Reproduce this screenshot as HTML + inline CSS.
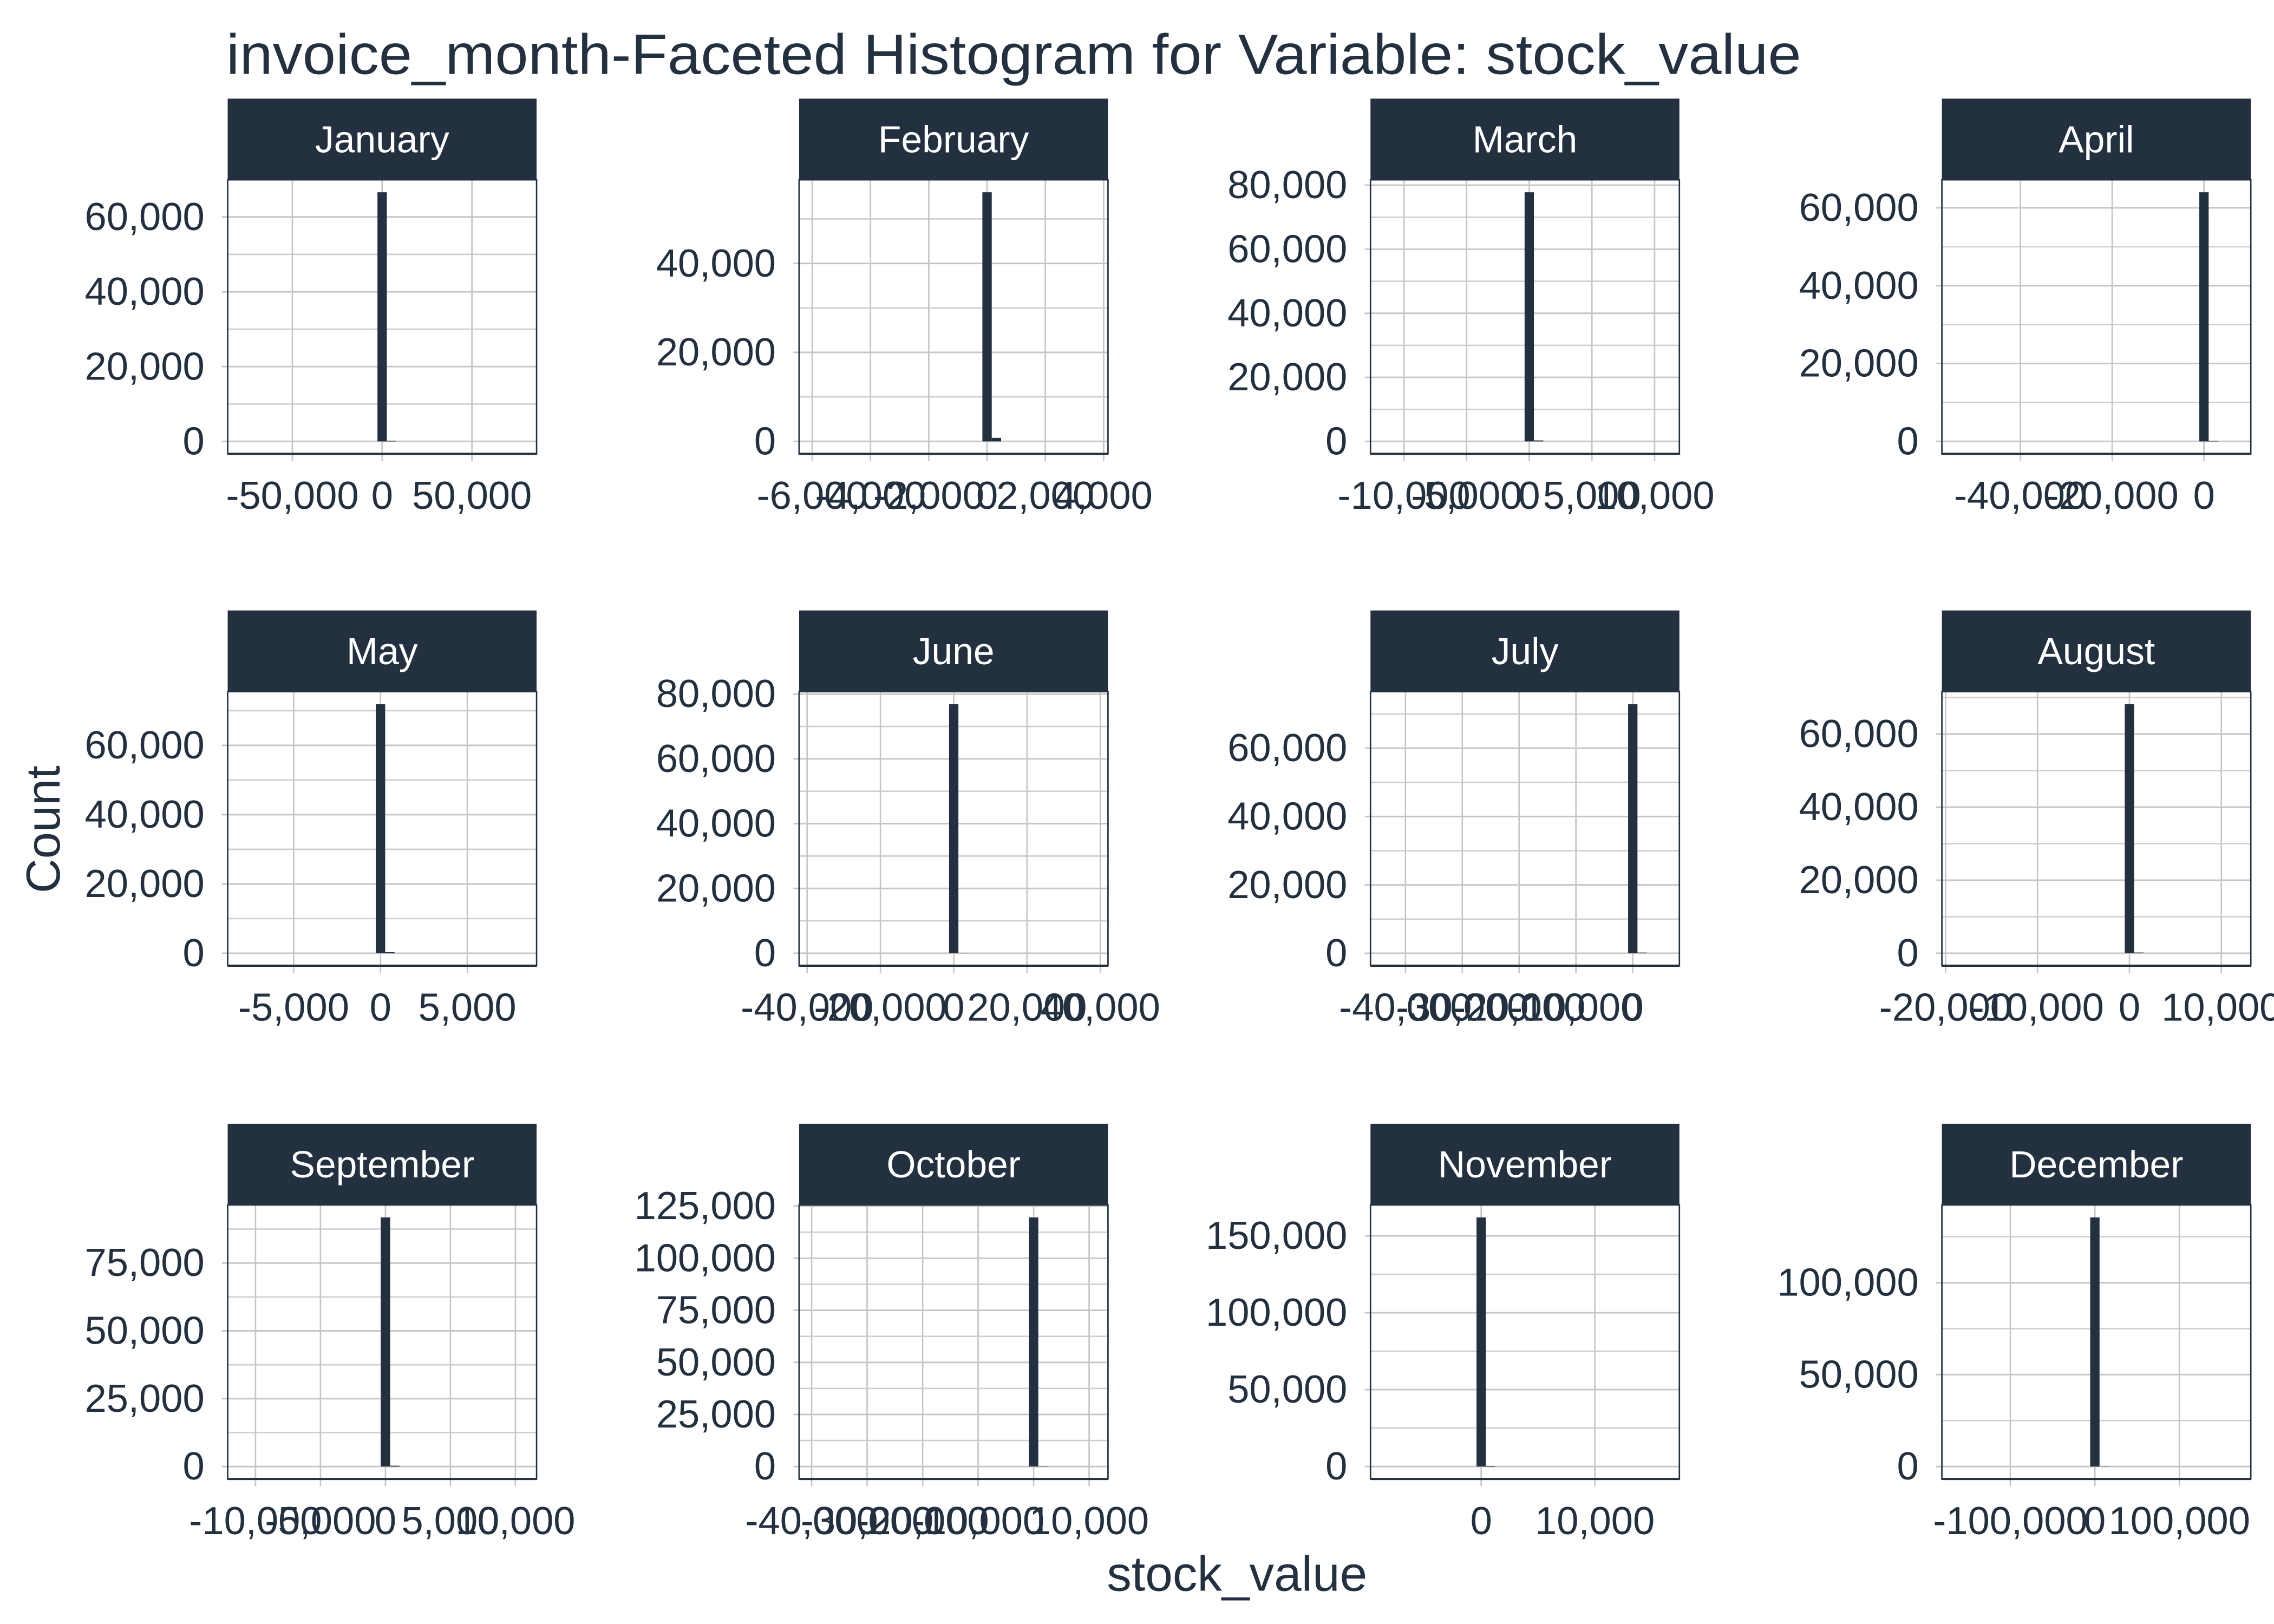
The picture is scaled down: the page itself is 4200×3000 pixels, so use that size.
<!DOCTYPE html>
<html><head><meta charset="utf-8"><style>
html,body{margin:0;padding:0;background:#fff;}
svg{display:block;}
text{font-family:"Liberation Sans",Arial,sans-serif;fill:#233040;}
</style></head><body>
<svg id="chart" width="4200" height="3000" viewBox="0 0 1568 1120" xmlns="http://www.w3.org/2000/svg">
<rect width="1568" height="1120" fill="#fff"/>
<text x="156" y="51" font-size="39" textLength="1086" lengthAdjust="spacingAndGlyphs">invoice_month-Faceted Histogram for Variable: stock_value</text>
<text transform="translate(41,572) rotate(-90)" text-anchor="middle" font-size="33">Count</text>
<text x="853" y="1097" text-anchor="middle" font-size="34">stock_value</text>
<g id="panels"></g>
</svg>
<script>
const months = ["January","February","March","April","May","June","July","August","September","October","November","December"];
const xLo = [-86000,-6450,-12670,-57100,-8800,-42200,-46150,-20400,-12140,-42260,-9740,-181000];
const xHi = [86000,4150,11980,10200,8990,42100,8200,13200,11630,13400,17440,184500];
const xTicks = [
  [-50000,0,50000],
  [-6000,-4000,-2000,0,2000,4000],
  [-10000,-5000,0,5000,10000],
  [-40000,-20000,0],
  [-5000,0,5000],
  [-40000,-20000,0,20000,40000],
  [-40000,-30000,-20000,-10000,0],
  [-20000,-10000,0,10000],
  [-10000,-5000,0,5000,10000],
  [-40000,-30000,-20000,-10000,0,10000],
  [0,10000],
  [-100000,0,100000]
];
const yTicks = [
  [0,20000,40000,60000],
  [0,20000,40000],
  [0,20000,40000,60000,80000],
  [0,20000,40000,60000],
  [0,20000,40000,60000],
  [0,20000,40000,60000,80000],
  [0,20000,40000,60000],
  [0,20000,40000,60000],
  [0,25000,50000,75000],
  [0,25000,50000,75000,100000,125000],
  [0,50000,100000,150000],
  [0,50000,100000]
];
const mainBin = [0,0,0,0,0,0,0,0,0,0,0,0];
const mainCount = [66600,56000,77800,64000,71900,76900,72900,68200,91800,119600,162000,135500];
const tailCount = [150,800,300,100,300,100,200,200,300,150,400,100];

const colX = [157,551,945,1339];
const rowY = [68,421,775];
const PW = 213, SH = 56, PH = 189;
const NS = "http://www.w3.org/2000/svg";
const root = document.getElementById("panels");
function mk(tag, attrs, parent){
  const e = document.createElementNS(NS, tag);
  for (const k in attrs) e.setAttribute(k, attrs[k]);
  parent.appendChild(e);
  return e;
}
function fmt(v){ return v.toLocaleString("en-US"); }

months.forEach((m, i) => {
  const px = colX[i % 4], sy = rowY[Math.floor(i / 4)], py = sy + SH;
  const g = mk("g", {}, root);
  
  
  const xs = v => px + (v - xLo[i]) / (xHi[i] - xLo[i]) * PW;
  const ymax = Math.max(mainCount[i], tailCount[i]);
  const yLo = -0.05 * ymax, yHi = 1.05 * ymax;
  const ys = v => py + PH - (v - yLo) / (yHi - yLo) * PH;
  const strip = mk("rect", {x: px, y: sy, width: PW, height: SH, fill: "#233040"}, g);
  
  
  const st = mk("text", {x: px + PW/2, y: sy + SH/2 + 9, "text-anchor": "middle", "font-size": 26, style: "fill:#fff"}, g);
  st.textContent = m;
  
  
  const yt = yTicks[i];
  const step = yt[1] - yt[0];
  for (let v = yt[0] + step/2; v < yHi; v += step) {
    const y = ys(v);
    if (y > py && y < py + PH) mk("line", {x1: px, x2: px + PW, y1: y, y2: y, stroke: "#cfcfcf", "stroke-width": 1}, g);
  }
  yt.forEach(v => {
    const y = ys(v);
    const l = mk("line", {x1: px - 4, x2: px + PW, y1: y, y2: y, stroke: "#c6c6c6", "stroke-width": 1.1}, g);
    
    
    const t = mk("text", {x: px - 16, y: y + 9, "text-anchor": "end", "font-size": 27}, g);
    t.textContent = fmt(v);
    
    
  });
  xTicks[i].forEach(v => {
    const x = xs(v);
    const l = mk("line", {x1: x, x2: x, y1: py, y2: py + PH + 5, stroke: "#c6c6c6", "stroke-width": 1}, g);
    
    
    const t = mk("text", {x: x, y: py + PH + 38, "text-anchor": "middle", "font-size": 27}, g);
    t.textContent = fmt(v);
    
    
  });
  const binW = (xHi[i] - xLo[i]) / 1.1 / 30;
  const b = mk("rect", {x: xs(mainBin[i] - binW/2), y: ys(mainCount[i]), width: xs(binW) - xs(0), height: ys(0) - ys(mainCount[i]), fill: "#233040"}, g);
  
  
  const b2 = mk("rect", {x: xs(mainBin[i] + binW/2), y: ys(tailCount[i]), width: xs(binW) - xs(0), height: ys(0) - ys(tailCount[i]), fill: "#233040"}, g);
  
  
  const br = mk("rect", {x: px, y: py, width: PW, height: PH, fill: "none", stroke: "#233040", "stroke-width": 1}, g);
  
  
  mk("line", {x1: px, x2: px + PW, y1: py + PH, y2: py + PH, stroke: "#233040", "stroke-width": 1.5}, g);
});
</script>
</body></html>
